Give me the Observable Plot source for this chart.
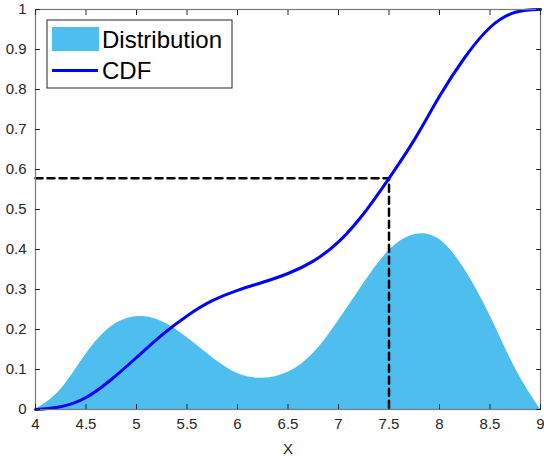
<!DOCTYPE html>
<html>
<head>
<meta charset="utf-8">
<script src="https://cdn.jsdelivr.net/npm/d3@7"></script>
<script src="https://cdn.jsdelivr.net/npm/@observablehq/plot@0.6"></script>
<style>
  html, body { margin: 0; padding: 0; background: #fff; }
  #chart { position: relative; width: 544px; height: 460px; }
</style>
</head>
<body>
<div id="chart"></div>
<script>
// Distribution (density)
const xDens = [4, 4.25, 4.5, 4.75, 5, 5.25, 5.5, 5.75, 6, 6.25, 6.5, 6.75, 7, 7.25, 7.5, 7.75, 8, 8.25, 8.5, 8.75, 9];
const density = [0, 0.05, 0.138, 0.207, 0.232, 0.22, 0.18, 0.13, 0.09, 0.078, 0.093, 0.14, 0.222, 0.315, 0.397, 0.437, 0.425, 0.35, 0.235, 0.103, 0];
// CDF
const xCdf = [4, 4.25, 4.5, 4.75, 5, 5.25, 5.5, 5.75, 6, 6.25, 6.5, 6.75, 7, 7.25, 7.5, 7.75, 8, 8.25, 8.5, 8.75, 9];
const cdf = [0, 0.007, 0.03, 0.075, 0.13, 0.186, 0.234, 0.272, 0.298, 0.318, 0.34, 0.371, 0.419, 0.49, 0.578, 0.674, 0.783, 0.88, 0.955, 0.993, 1];
// Marker
const markerX = 7.5;
const markerP = 0.578;
// Ticks
const xTicks = [4, 4.5, 5, 5.5, 6, 6.5, 7, 7.5, 8, 8.5, 9];
const yTicks = [0, 0.1, 0.2, 0.3, 0.4, 0.5, 0.6, 0.7, 0.8, 0.9, 1];
const legendLabels = ["Distribution", "CDF"];

const densData = xDens.map((x, i) => ({x, y: density[i]}));
const cdfData = xCdf.map((x, i) => ({x, y: cdf[i]}));
const guide = [{x: xTicks[0], y: markerP}, {x: markerX, y: markerP}, {x: markerX, y: 0}];

const fmt = d => String(d);
const tickColor = "#262626";

const plot = Plot.plot({
  width: 544,
  height: 460,
  marginLeft: 35,
  marginRight: 4,
  marginTop: 9,
  marginBottom: 51,
  style: {fontFamily: "'Liberation Sans', Arial, sans-serif", fontSize: "15px", color: tickColor, background: "#fff"},
  x: {domain: [4, 9]},
  y: {domain: [0, 1]},
  marks: [
    Plot.areaY(densData, {x: "x", y: "y", fill: "#4DBEEE", curve: "natural"}),
    Plot.line(guide, {x: "x", y: "y", stroke: "#000", strokeWidth: 2.5, strokeDasharray: "7,5"}),
    Plot.line(cdfData, {x: "x", y: "y", stroke: "#0000FF", strokeWidth: 3, curve: "natural"}),
    Plot.frame({stroke: "#7a7a7a", strokeWidth: 1.2}),
    Plot.axisX(xTicks, {anchor: "bottom", tickSize: -5, tickPadding: 14, tickFormat: fmt, label: "X", labelAnchor: "center", labelArrow: "none", labelOffset: 44, stroke: tickColor, fill: tickColor}),
    Plot.axisX(xTicks, {anchor: "top", tickSize: -5, tickFormat: () => "", label: null, stroke: tickColor}),
    Plot.axisY(yTicks, {anchor: "left", tickSize: -5, tickPadding: 14, tickFormat: fmt, label: null, stroke: tickColor, fill: tickColor}),
    Plot.axisY(yTicks, {anchor: "right", tickSize: -5, tickFormat: () => "", label: null, stroke: tickColor})
  ]
});

document.getElementById("chart").appendChild(plot);

// Legend (drawn into the SVG)
const svg = d3.select(plot);
const lg = svg.append("g").attr("font-family", "'Liberation Sans', Arial, sans-serif").attr("text-anchor", "start");
lg.append("rect").attr("x", 47).attr("y", 20).attr("width", 185).attr("height", 68)
  .attr("fill", "#fff").attr("stroke", "#262626").attr("stroke-width", 1);
lg.append("rect").attr("x", 52).attr("y", 27).attr("width", 47).attr("height", 24).attr("fill", "#4DBEEE");
lg.append("line").attr("x1", 52).attr("x2", 98).attr("y1", 70.5).attr("y2", 70.5)
  .attr("stroke", "#0000FF").attr("stroke-width", 3);
lg.append("text").attr("x", 102).attr("y", 48).attr("font-size", 24).attr("fill", "#000").attr("text-anchor", "start").text(legendLabels[0]);
lg.append("text").attr("x", 102).attr("y", 79).attr("font-size", 24).attr("fill", "#000").attr("text-anchor", "start").text(legendLabels[1]);
</script>
</body>
</html>
